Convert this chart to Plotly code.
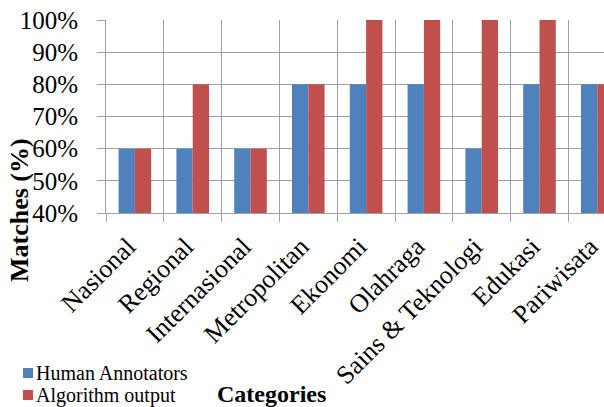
import plotly.graph_objects as go

categories = ["Nasional", "Regional", "Internasional", "Metropolitan", "Ekonomi",
              "Olahraga", "Sains & Teknologi", "Edukasi", "Pariwisata"]
human = [0.60, 0.60, 0.60, 0.80, 0.80, 0.80, 0.60, 0.80, 0.80]
algorithm = [0.60, 0.80, 0.60, 0.80, 1.00, 1.00, 1.00, 1.00, 0.80]
series_names = ["Human Annotators", "Algorithm output"]
series_colors = ["#4F81BD", "#C0504D"]
y_ticks = [0.4, 0.5, 0.6, 0.7, 0.8, 0.9, 1.0]

SERIF = "Liberation Serif"
GRID = "#a0a0a0"

fig = go.Figure()
for name, vals, col in zip(series_names, [human, algorithm], series_colors):
    fig.add_trace(go.Bar(x=categories, y=vals, name=name,
                         marker=dict(color=col, line=dict(width=0))))

W, H = 604, 407
L, R, T, B = 106, 0, 20, 194
plot_w = W - L - R
plot_h = H - T - B
unit = 57.8
span = plot_w / unit


def px_x(x):
    return (x - L) / plot_w


def px_y(y):
    return (H - B - y) / plot_h


annotations = [
    dict(text="<b>Categories</b>", xref="paper", yref="paper",
         x=px_x(271), y=px_y(394), xanchor="center", yanchor="middle",
         showarrow=False, font=dict(family=SERIF, size=24, color="black")),
    dict(text="<b>Matches (%)</b>", xref="paper", yref="paper",
         x=px_x(19), y=px_y(210), xanchor="center", yanchor="middle",
         showarrow=False, textangle=-90,
         font=dict(family=SERIF, size=26, color="black")),
]
shapes = []
legend_rows = [373, 395]
for name, col, yc in zip(series_names, series_colors, legend_rows):
    shapes.append(dict(type="rect", xref="paper", yref="paper",
                       x0=px_x(23), x1=px_x(33), y0=px_y(yc + 5), y1=px_y(yc - 5),
                       fillcolor=col, line=dict(width=0)))
    annotations.append(dict(text=name, xref="paper", yref="paper",
                            x=px_x(34), y=px_y(yc), xanchor="left", yanchor="middle",
                            showarrow=False,
                            font=dict(family=SERIF, size=20, color="black")))

fig.update_layout(
    width=W, height=H,
    margin=dict(l=L, r=R, t=T, b=B, autoexpand=False),
    paper_bgcolor="white", plot_bgcolor="white",
    barmode="group", bargap=0.436, bargroupgap=0,
    font=dict(family=SERIF, color="black"),
    showlegend=False,
    xaxis=dict(
        range=[-0.5, -0.5 + span], automargin=False,
        tickson="boundaries", ticks="outside", ticklen=8, tickcolor=GRID,
        showgrid=True, gridcolor=GRID, gridwidth=1,
        showline=True, linecolor=GRID, linewidth=1,
        tickangle=-45, tickfont=dict(family=SERIF, size=26, color="black"),
        ticklabelstandoff=7, ticklabelshift=-7,
    ),
    yaxis=dict(
        range=[0.4, 1.0], tickvals=y_ticks, tickformat=".0%", automargin=False,
        ticks="outside", ticklen=8, tickcolor=GRID,
        showgrid=True, gridcolor=GRID, gridwidth=1,
        showline=True, linecolor=GRID, linewidth=1,
        tickfont=dict(family=SERIF, size=25, color="black"),
        ticklabelstandoff=14,
    ),
    annotations=annotations,
    shapes=shapes,
)

fig.write_html("out.html")
